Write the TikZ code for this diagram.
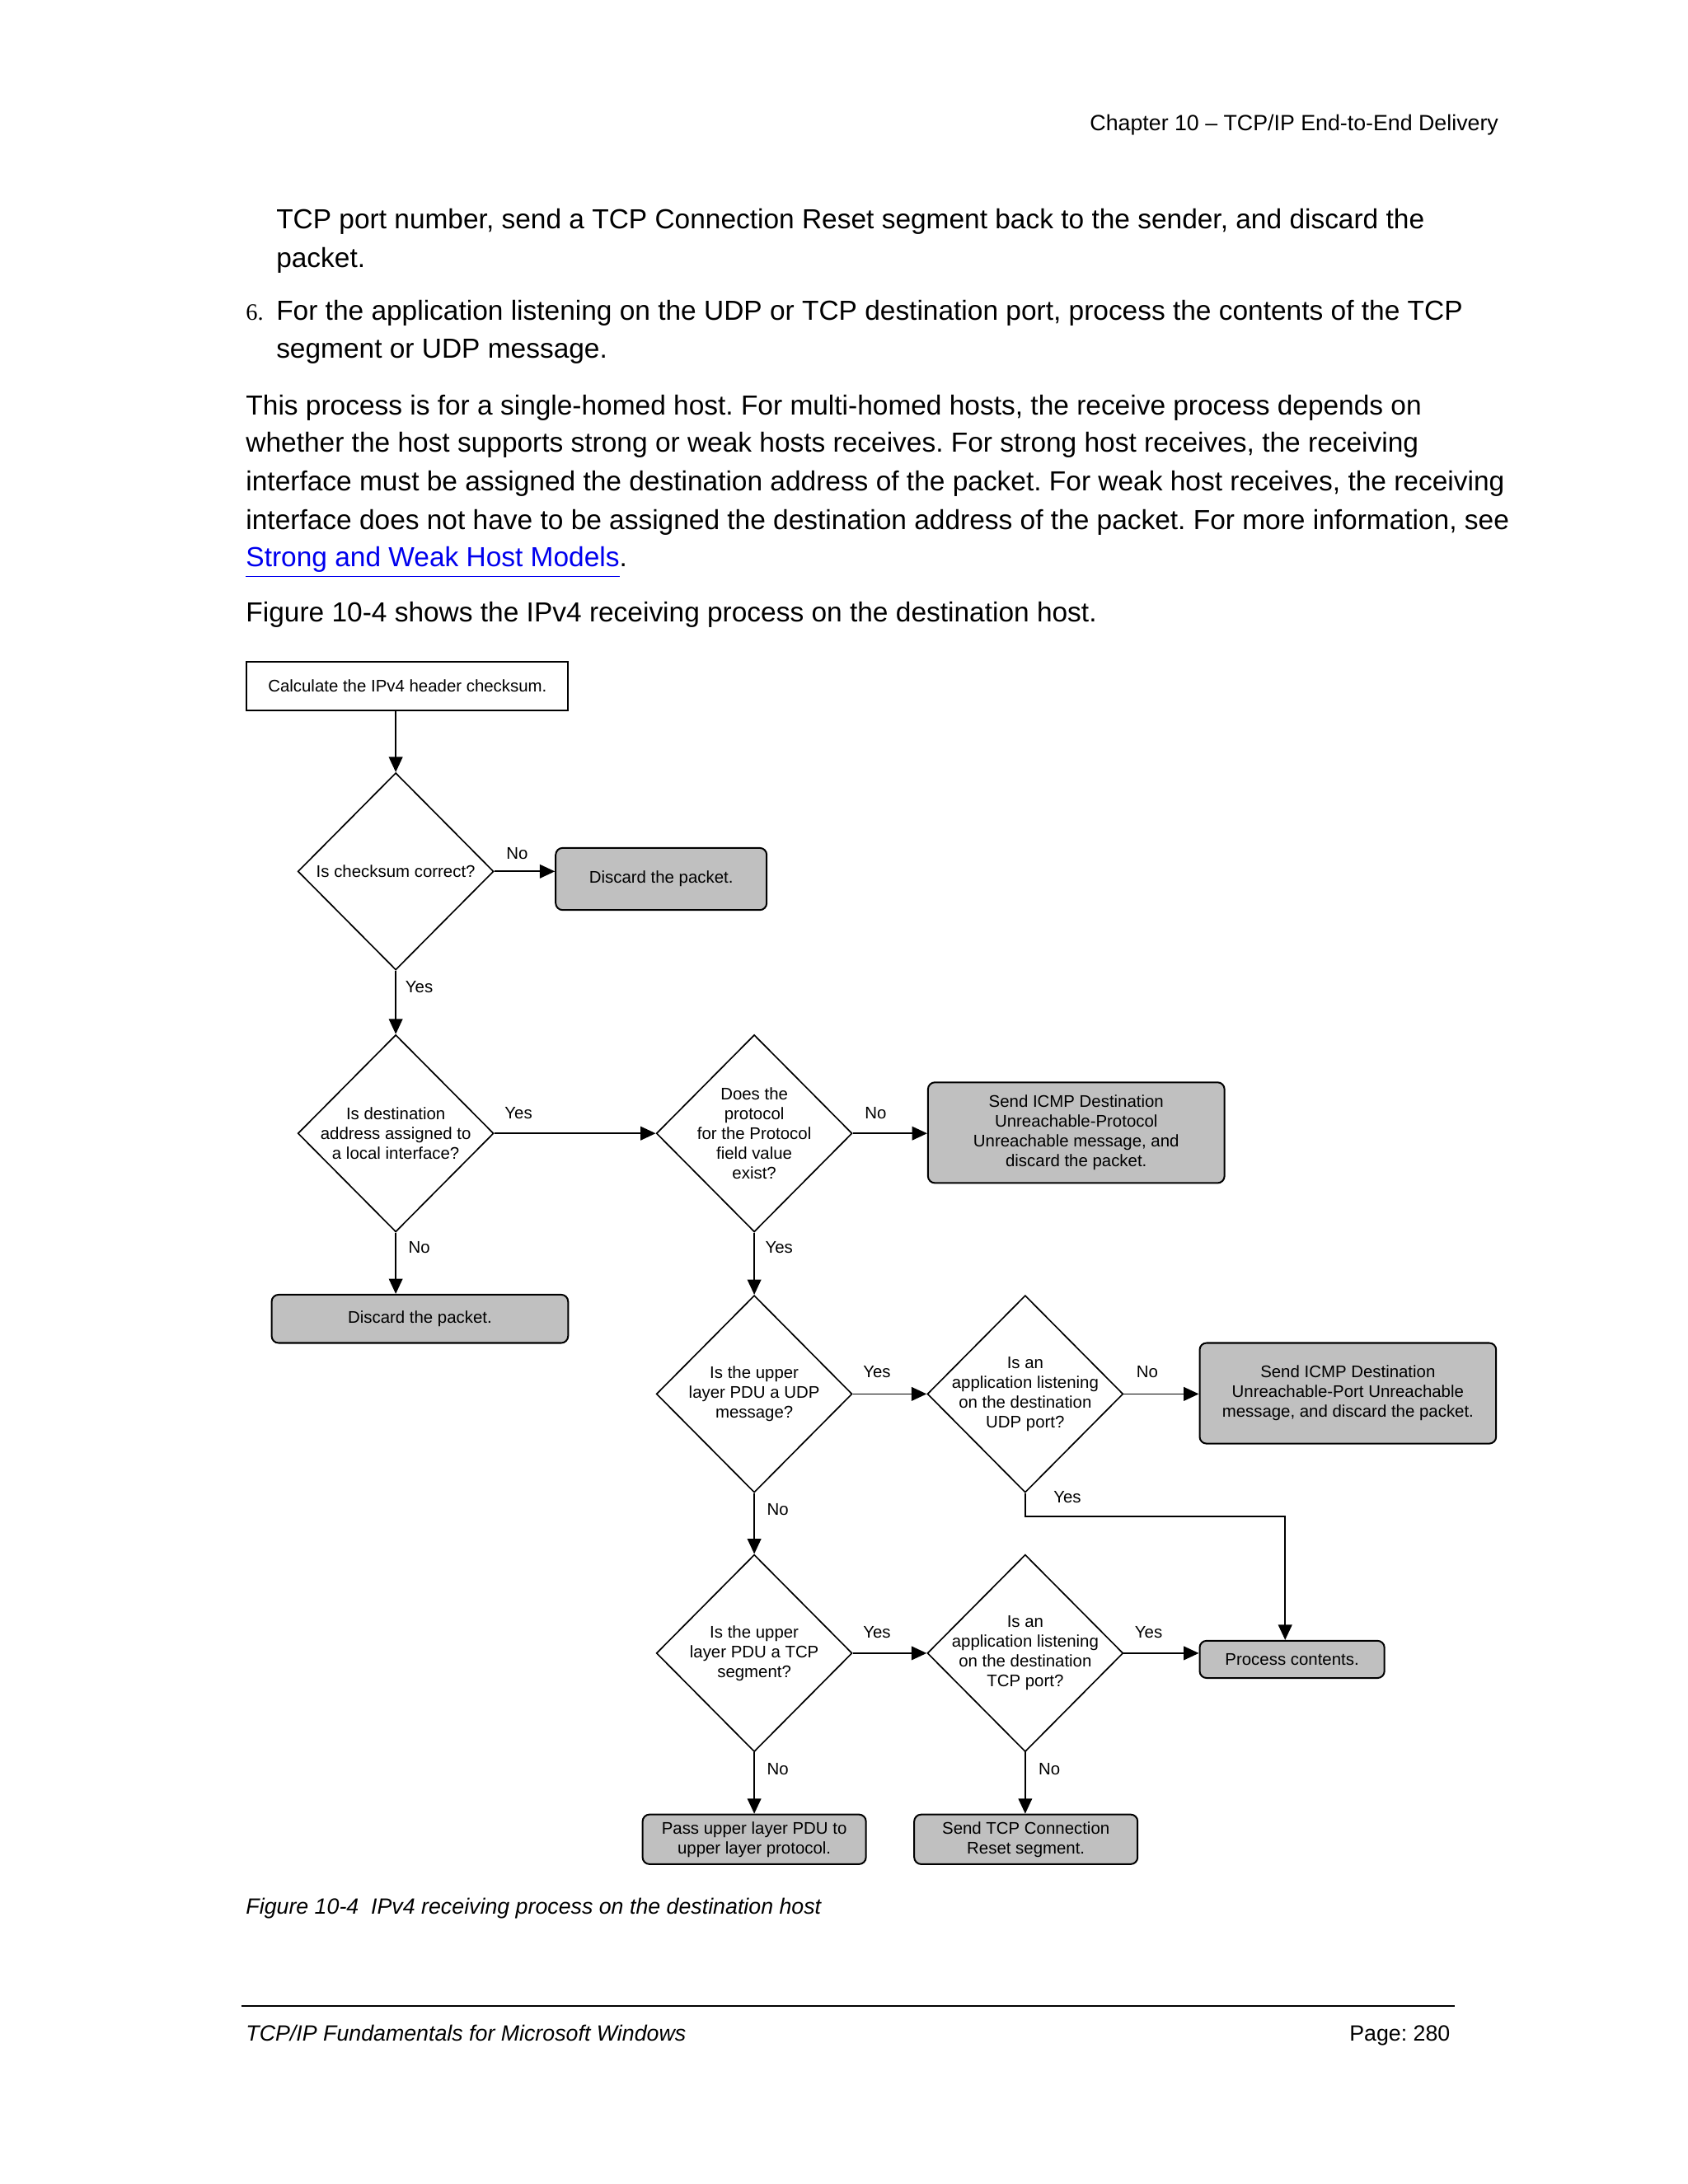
\documentclass[tikz,border=0pt]{standalone}
\usepackage{fontspec}
\setmainfont{Liberation Sans}
\newfontfamily\serifnum{Liberation Serif}
\usetikzlibrary{shapes.geometric,arrows.meta}
\definecolor{boxgray}{RGB}{192,192,192}
\definecolor{linkblue}{RGB}{0,0,238}
\frenchspacing
\begin{document}
\begin{tikzpicture}[x=0.5pt,y=-0.5pt,
 body/.style={anchor=base west,inner sep=0,font=\fontsize{10}{14}\selectfont},
 small/.style={inner sep=0,font=\fontsize{8}{10}\selectfont},
 dia/.style={draw,diamond,minimum width=71pt,minimum height=71.5pt,inner sep=0,line width=0.5pt},
 dtext/.style={align=center,inner sep=0,font=\fontsize{6.1}{7.2}\selectfont},
 wbox/.style={draw,rectangle,line width=0.6pt,inner sep=0,align=center,font=\fontsize{6.1}{7.2}\selectfont},
 gbox/.style={draw,rectangle,rounded corners=2.5pt,fill=boxgray,line width=0.6pt,inner sep=0,align=center,font=\fontsize{6.1}{7.2}\selectfont},
 lab/.style={inner sep=0,font=\fontsize{6.1}{7}\selectfont},
 arr/.style={line width=0.5pt,-{Triangle[length=5.5pt,width=5pt]}}
]
\useasboundingbox (0,0) rectangle (1224,1584);
\fill[white] (0,0) rectangle (1224,1584);

% header
\node[small,anchor=base east] (hdr) at (1087,95) {Chapter 10 -- TCP/IP End-to-End Delivery};

% body text
\node[body] (t1) at (200,166) {TCP port number, send a TCP Connection Reset segment back to the sender, and discard the};
\node[body] (t2) at (200,194) {packet.};
\node[inner sep=0,anchor=base west,font=\serifnum\fontsize{8.5}{10}\selectfont] (n6) at (178,232) {6.};
\node[body] (t3) at (200,232) {For the application listening on the UDP or TCP destination port, process the contents of the TCP};
\node[body] (t4) at (200,260) {segment or UDP message.};
\node[body] (p1) at (178,301) {This process is for a single-homed host. For multi-homed hosts, the receive process depends on};
\node[body] (p2) at (178,328) {whether the host supports strong or weak hosts receives. For strong host receives, the receiving};
\node[body] (p3) at (178,356) {interface must be assigned the destination address of the packet. For weak host receives, the receiving};
\node[body] (p4) at (178,384) {interface does not have to be assigned the destination address of the packet. For more information, see};
\node[body] (p5) at (178,411) {\textcolor{linkblue}{\underline{Strong and Weak Host Models}}.};
\node[body] (p6) at (178,451) {Figure 10-4 shows the IPv4 receiving process on the destination host.};

% diagram nodes
\node[wbox,minimum width=116.5pt,minimum height=17.5pt] (calc) at (295.5,497.5) {Calculate the IPv4 header checksum.};
\node[dia] (d1) at (287,632) {};
\node[dtext] (d1t) at (d1) {Is checksum correct?};
\node[gbox,minimum width=76.5pt,minimum height=22.5pt] (dis1) at (479.5,637.5) {Discard the packet.};
\node[dia] (d2) at (287,822) {};
\node[dtext] (d2t) at (d2) {Is destination\\address assigned to\\a local interface?};
\node[dia] (d3) at (547,822) {};
\node[dtext] (d3t) at (d3) {Does the\\protocol\\for the Protocol\\field value\\exist?};
\node[gbox,minimum width=107.5pt,minimum height=36.5pt] (icmp1) at (780.5,821.5) {Send ICMP Destination\\Unreachable-Protocol\\Unreachable message, and\\discard the packet.};
\node[gbox,minimum width=107.5pt,minimum height=17.5pt] (dis2) at (304.5,956.5) {Discard the packet.};
\node[dia] (d4) at (547,1011) {};
\node[dtext] (d4t) at (d4) {Is the upper\\layer PDU a UDP\\message?};
\node[dia] (d5) at (743.5,1011) {};
\node[dtext] (d5t) at (d5) {Is an\\application listening\\on the destination\\UDP port?};
\node[gbox,minimum width=107.5pt,minimum height=36.5pt] (icmp2) at (977.5,1010.5) {Send ICMP Destination\\Unreachable-Port Unreachable\\message, and discard the packet.};
\node[dia] (d6) at (547,1199) {};
\node[dtext] (d6t) at (d6) {Is the upper\\layer PDU a TCP\\segment?};
\node[dia] (d7) at (743.5,1199) {};
\node[dtext] (d7t) at (d7) {Is an\\application listening\\on the destination\\TCP port?};
\node[gbox,minimum width=67pt,minimum height=13.5pt] (proc) at (937,1203.5) {Process contents.};
\node[gbox,minimum width=81pt,minimum height=18pt] (pass) at (547,1334) {Pass upper layer PDU to\\upper layer protocol.};
\node[gbox,minimum width=81pt,minimum height=18pt] (reset) at (744,1334) {Send TCP Connection\\Reset segment.};
\coordinate (bend) at (932,1100);

% connectors
\draw[arr] (calc.south -| d1.north) -- (d1.north);
\draw[arr] (d1.east) -- (d1.east -| dis1.west);
\draw[arr] (d1.south) -- (d2.north);
\draw[arr] (d2.east) -- (d3.west);
\draw[arr] (d3.east) -- (d3.east -| icmp1.west);
\draw[arr] (d2.south) -- (d2.south |- dis2.north);
\draw[arr] (d3.south) -- (d4.north);
\draw[arr] (d4.east) -- (d5.west);
\draw[arr] (d5.east) -- (d5.east -| icmp2.west);
\draw[arr] (d5.south) |- (bend) -- (bend |- proc.north);
\draw[arr] (d4.south) -- (d6.north);
\draw[arr] (d6.east) -- (d7.west);
\draw[arr] (d7.east) -- (d7.east -| proc.west);
\draw[arr] (d6.south) -- (pass.north);
\draw[arr] (d7.south) -- (d7.south |- reset.north);

% labels
\node[lab] (l1) at (375,619) {No};
\node[lab] (l2) at (304,716) {Yes};
\node[lab] (l3) at (376,807) {Yes};
\node[lab] (l4) at (635,807) {No};
\node[lab] (l5) at (304,905) {No};
\node[lab] (l6) at (565,905) {Yes};
\node[lab] (l7) at (636,995) {Yes};
\node[lab] (l8) at (832,995) {No};
\node[lab] (l9) at (774,1086) {Yes};
\node[lab] (l10) at (564,1095) {No};
\node[lab] (l11) at (636,1184) {Yes};
\node[lab] (l12) at (833,1184) {Yes};
\node[lab] (l13) at (564,1283) {No};
\node[lab] (l14) at (761,1283) {No};

% caption and footer
\node[small,anchor=base west,font=\itshape\fontsize{8}{10}\selectfont] (cap) at (178,1388) {Figure 10-4\ \ IPv4 receiving process on the destination host};
\coordinate (fl) at (175,1455);
\coordinate (fr) at (1055,1455);
\draw[line width=0.75pt] (fl) -- (fr);
\node[small,anchor=base west,font=\itshape\fontsize{8}{10}\selectfont] (foot) at (178,1480) {TCP/IP Fundamentals for Microsoft Windows};
\node[small,anchor=base east] (page) at (1052,1480) {Page: 280};
\end{tikzpicture}
\end{document}
